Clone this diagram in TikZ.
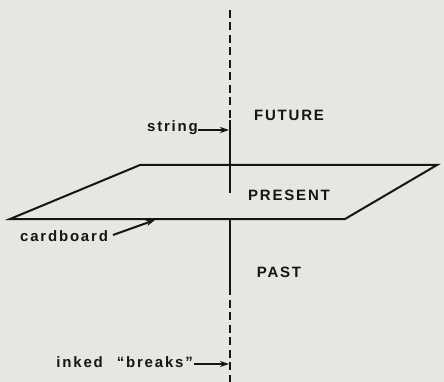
\documentclass[tikz,border=0pt]{standalone}
\usepackage{fontspec}
\setmainfont{Liberation Sans}[LetterSpace=12]
\usetikzlibrary{arrows.meta}
\definecolor{bg}{HTML}{E6E6E4}
\definecolor{ink}{HTML}{151515}
\tikzset{
  lbl/.style={font=\bfseries\fontsize{15}{17}\selectfont, text=ink, inner sep=0pt},
  edge/.style={draw=ink, line width=2pt},
  ptr/.style={draw=ink, line width=2pt, -{Stealth[length=9pt,width=6pt]}},
  brk/.style={draw=ink, line width=2pt, dash pattern=on 8pt off 4.5pt}
}
\begin{document}
\begin{tikzpicture}[x=1pt,y=-1pt]
\fill[bg] (0,0) rectangle (444,382);
\useasboundingbox (0,0) rectangle (444,382);
% cardboard plane
\coordinate (tl) at (140,165);
\coordinate (tr) at (437,165);
\coordinate (br) at (345,219);
\coordinate (bl) at (10,219);
\draw[edge, line join=miter] (tl) -- (tr) -- (br) -- (bl) -- cycle;
% string
\coordinate (s0) at (230,10);
\coordinate (s1) at (230,120);
\coordinate (s2) at (230,193);
\coordinate (s3) at (230,219);
\coordinate (s4) at (230,287);
\coordinate (s5) at (230,382);
\draw[brk] (s0) -- (s1);
\draw[edge] (s1) -- (s2);
\draw[edge] (s3) -- (s4);
\draw[brk] (s4) -- (s5);
% labels
\node[lbl] (future) at (289,115) {FUTURE};
\node[lbl] (present) at (289,195) {PRESENT};
\node[lbl] (past) at (279,272) {PAST};
\node[lbl, anchor=east] (string) at (198,128) {string};
\node[lbl, anchor=west] (cardboard) at (20,236) {cardboard};
\node[lbl, anchor=east] (inked) at (193,362) {inked\hspace{14pt}``breaks''};
% pointers
\coordinate (sp) at (229,130);
\coordinate (cp) at (155,220);
\coordinate (ip) at (229,364);
\draw[ptr] (string.east) ++(0,2) -- (sp);
\draw[ptr] (113,235) -- (cp);
\draw[ptr] (inked.east) ++(1,2) -- (ip);
\end{tikzpicture}
\end{document}
